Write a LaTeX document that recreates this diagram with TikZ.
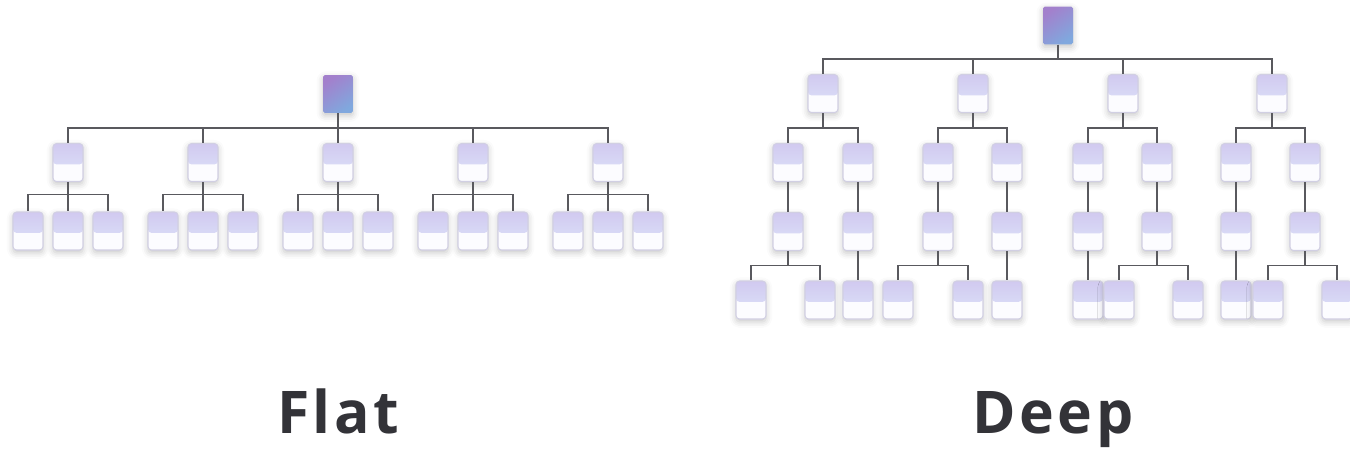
\documentclass[tikz,border=0pt]{standalone}
\usepackage{fontspec}
\setmainfont{Open Sans}
\usetikzlibrary{positioning}
\usetikzlibrary{calc}
\usetikzlibrary{shadows.blur}

\begin{document}
\begin{tikzpicture}[x=0.02cm, y=-0.02cm, every node/.style={inner sep=0pt},
	unit/.style={draw=unitedge, line width=0.6pt, fill=unitlow, rounded corners=2pt,
		minimum width=0.6cm, minimum height=0.76cm,
		blur shadow={shadow xshift=0pt, shadow yshift=-1.5pt, shadow blur radius=3.5pt, shadow opacity=22},
		path picture={\fill[top color=unittop, bottom color=unitmid]
			(path picture bounding box.north west) rectangle
			($(path picture bounding box.north east)!0.55!(path picture bounding box.south east)$);}},
	head/.style={rounded corners=1pt, minimum width=0.6cm, minimum height=0.76cm,
		shading=axis, left color=headleft, right color=headright, shading angle=35,
		blur shadow={shadow xshift=0pt, shadow yshift=-1.5pt, shadow blur radius=3.5pt, shadow opacity=22}},
	link/.style={draw=linkgrey, line width=1.1pt},
	caption/.style={text=captiongrey, anchor=base, font=\fontsize{33.5}{40}\selectfont\bfseries\addfontfeature{LetterSpace=6}}]
% Flat versus deep hierarchy

% Colors
\definecolor{unitedge}{rgb}{0.82,0.81,0.89}
\definecolor{unittop}{rgb}{0.82,0.79,0.94}
\definecolor{unitmid}{rgb}{0.87,0.90,0.98}
\definecolor{unitlow}{rgb}{0.99,0.99,1.00}
\definecolor{headleft}{rgb}{0.64,0.50,0.80}
\definecolor{headright}{rgb}{0.50,0.66,0.87}
\definecolor{linkgrey}{rgb}{0.35,0.35,0.37}
\definecolor{captiongrey}{rgb}{0.20,0.20,0.22}

\useasboundingbox (0,0) rectangle (1350,450);

% Flat
\node[head] (f0) at (338,94) {};
\foreach \i in {1,...,5}{
	\node[unit] (f\i) at ({68+135*(\i-1)},162.5) {};
	\draw[link] (f0.south) |- ($(f\i.north)+(0,-15)$) -- (f\i.north);
	\foreach \dx [count=\j] in {-40,0,40}{
		\node[unit] (g\i\j) at ($(f\i)+(\dx,68.5)$) {};
		\draw[link] (f\i.south) |- ($(g\i\j.north)+(0,-17)$) -- (g\i\j.north);
	}
}

% Deep
\node[head] (d0) at (1058,25.5) {};
\foreach \x [count=\i] in {823,973,1123,1272}{
	\node[unit] (d\i) at (\x,93.5) {};
	\draw[link] (d0.south) |- ($(d\i.north)+(0,-15)$) -- (d\i.north);
}
\foreach \x [count=\j] in {788,858,938,1007,1088,1157,1236,1305}{
	\pgfmathtruncatemacro{\p}{(\j+1)/2}
	\node[unit] (s\j) at (\x,162.5) {};
	\node[unit] (t\j) at (\x,231.5) {};
	\draw[link] (d\p.south) |- ($(s\j.north)+(0,-15)$) -- (s\j.north);
	\draw[link] (s\j.south) -- (t\j.north);
}
\foreach \x/\p [count=\k] in {751/1,820/1,858/2,898/3,968/3,1007/4,1088/5,1119/6,1188/6,1236/7,1268/8,1337/8}{
	\node[unit] (u\k) at (\x,300) {};
	\draw[link] (t\p.south) |- ($(u\k.north)+(0,-15)$) -- (u\k.north);
}

% Labels
\node[caption] (flat) at (338,433) {Flat};
\node[caption] (deep) at (1053,433) {Deep};
\end{tikzpicture}
\end{document}
